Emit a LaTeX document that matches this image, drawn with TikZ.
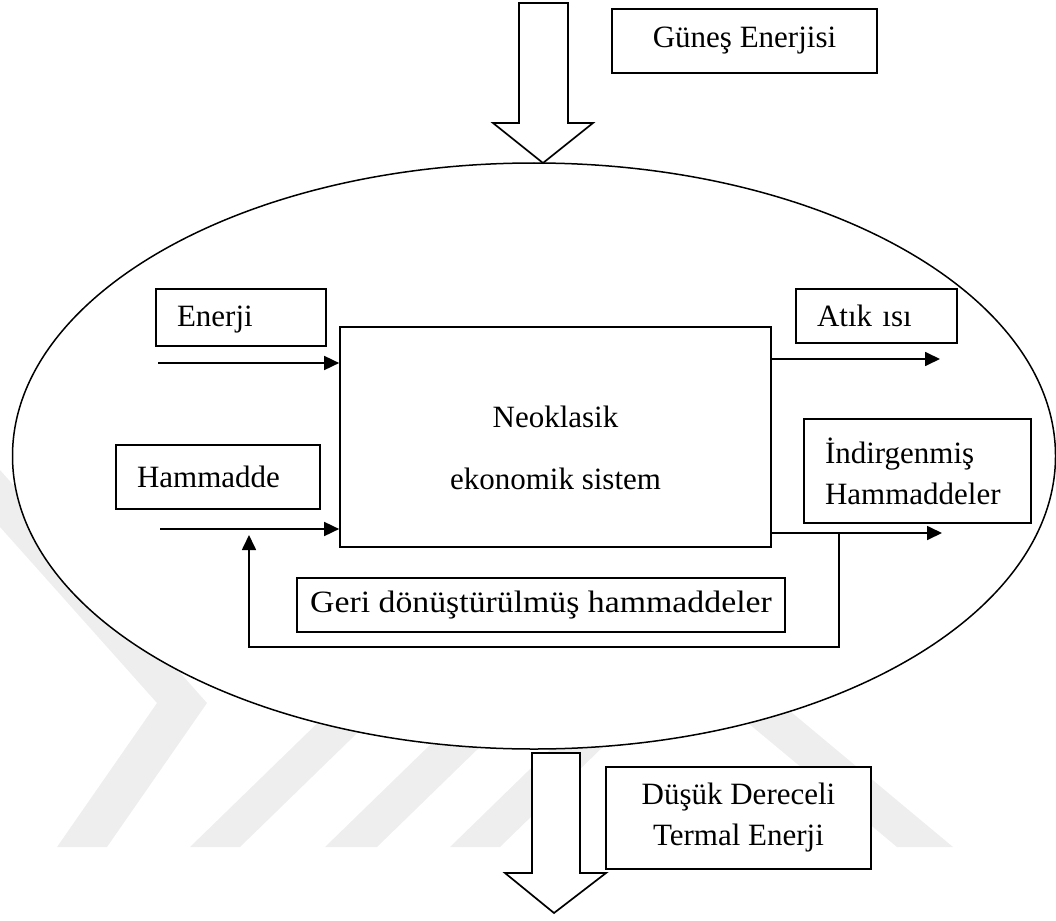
\documentclass[tikz,border=0pt]{standalone}
\usepackage{fontspec}
\setmainfont{Liberation Serif}
\usetikzlibrary{arrows.meta}
\definecolor{wmgray}{RGB}{238,238,238}
\begin{document}
\begin{tikzpicture}[x=1pt,y=-1pt,
  txt/.style={font=\fontsize{31}{41}\selectfont},
  box/.style={txt, draw, fill=white, line width=1.7pt, inner ysep=0pt},
  lbox/.style={box, align=left, inner xsep=21pt},
  arr/.style={-{Triangle[length=15pt,width=14pt]}, line width=1.7pt},
  hollow/.style={draw, fill=white, line width=1.7pt, line join=miter},
  wm/.style={fill=wmgray, draw=none}]
\useasboundingbox (0,0) rectangle (1056,920);
% watermark
\fill[wm] (0,470) -- (207,703) -- (107,847) -- (57,847) -- (157,703) -- (0,527) -- cycle;
\fill[wm] (190,847) -- (240,847) -- (494,600) -- (444,600) -- cycle;
\fill[wm] (325,847) -- (377,847) -- (631,600) -- (579,600) -- cycle;
\fill[wm] (450,847) -- (500,847) -- (683,669) -- (897,847) -- (953,847) -- (682,621) -- cycle;
% system boundary
\draw[line width=1.5pt, fill=white] (534,456) ellipse [x radius=521.5pt, y radius=293pt];
% hollow arrows
\draw[hollow] (519,3) -- (568,3) -- (568,123) -- (593,123) -- (543,163) -- (493,123) -- (519,123) -- cycle;
\draw[hollow] (532,753) -- (580,753) -- (580,873) -- (606,873) -- (554,913) -- (505,873) -- (532,873) -- cycle;
% boxes
\node[box, minimum width=265pt, minimum height=64pt, align=center] (gunes) at (744.5,41) {Güneş Enerjisi};
\node[lbox, text width=128pt, minimum height=57pt, text height=24pt] (enerji) at (241,317.5) {Enerji};
\node[lbox, text width=162pt, minimum height=64pt] (ham) at (218,477) {Hammadde};
\node[lbox, text width=119pt, minimum height=54pt, text height=22pt] (atik) at (876.5,316) {Atık ısı};
\node[lbox, text width=185pt, minimum height=104pt] (indir) at (917.5,471) {İndirgenmiş\\Hammaddeler};
\node[box, minimum width=431pt, minimum height=220pt] (sys) at (555.5,437) {};
\node[txt, align=center] (systext) at (555.5,448) {Neoklasik\\[21pt]ekonomik sistem};
\node[box, minimum width=488pt, minimum height=54pt] (geri) at (541,605) {\scalebox{1.09}[1]{Geri dönüştürülmüş hammaddeler}};
\node[box, minimum width=265pt, minimum height=102pt, align=center] (dusuk) at (738.5,818) {Düşük Dereceli\\Termal Enerji};
% connectors
\coordinate (e0) at (158,363);
\draw[arr] (e0) -- (e0 -| sys.west);
\coordinate (h0) at (160,529);
\draw[arr] (h0) -- (h0 -| sys.west);
\coordinate (a1) at (940,359);
\draw[arr] (a1 -| sys.east) -- (a1);
\coordinate (i1) at (942,533);
\draw[arr] (i1 -| sys.east) -- (i1);
\coordinate (r0) at (839,533);
\coordinate (r1) at (839,647);
\coordinate (r2) at (249,647);
\coordinate (r3) at (249,535);
\draw[arr] (r0) -- (r1) -- (r2) -- (r3);
\end{tikzpicture}
\end{document}
